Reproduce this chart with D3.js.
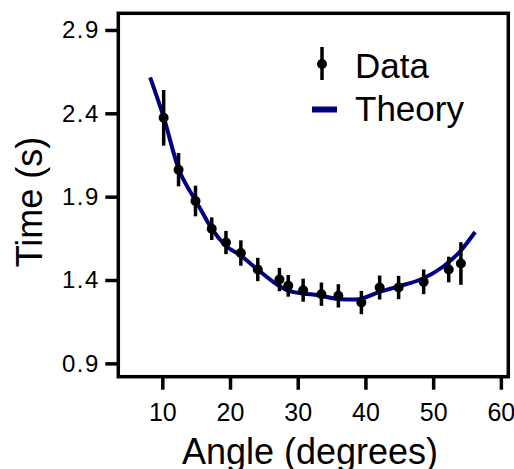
<!DOCTYPE html>
<html>
<head>
<meta charset="utf-8">
<script src="https://cdn.jsdelivr.net/npm/d3@7"></script>
<style>
  body { margin: 0; background: #fff; }
  svg { display: block; font-family: "Liberation Sans", Arial, sans-serif; }
</style>
</head>
<body>
<svg id="chart" width="514" height="469"></svg>
<script>
// measured points
const angles = [10.2, 12.4, 14.9, 17.3, 19.4, 21.6, 24.1, 27.3, 28.6, 30.8, 33.5, 36.0, 39.4, 42.1, 44.9, 48.6, 52.3, 54.1];
const times  = [2.373, 2.062, 1.874, 1.708, 1.625, 1.562, 1.463, 1.403, 1.365, 1.339, 1.315, 1.305, 1.265, 1.355, 1.355, 1.389, 1.463, 1.499];
const errors = [0.167, 0.10, 0.092, 0.068, 0.07, 0.076, 0.07, 0.07, 0.065, 0.069, 0.07, 0.07, 0.07, 0.072, 0.07, 0.074, 0.077, 0.128];

// theory curve
const theoryAngles = [8.2, 10.2, 12.4, 14.6, 15.6, 17.3, 19.3, 21.5, 24.2, 27.1, 28.8, 30.8, 33.0, 36.2, 38.6, 42.1, 45.0, 48.5, 51.4, 53.9, 56.2];
const theoryTimes  = [2.616, 2.377, 2.068, 1.898, 1.828, 1.708, 1.608, 1.549, 1.459, 1.369, 1.333, 1.319, 1.309, 1.285, 1.283, 1.329, 1.363, 1.409, 1.478, 1.568, 1.688];

const xTicks = [10, 20, 30, 40, 50, 60];
const yTicks = [0.9, 1.4, 1.9, 2.4, 2.9];

const margin = { top: 13.3, right: 5.7, bottom: 92.3, left: 118.3 };
const width = 514 - margin.left - margin.right;
const height = 469 - margin.top - margin.bottom;
const navy = '#000080';

const svg = d3.select('#chart');
const g = svg.append('g').attr('transform', `translate(${margin.left},${margin.top})`);

const x = d3.scaleLinear().domain([3.5, 61.1]).range([0, width]);
const y = d3.scaleLinear().domain([0.82, 3.0]).range([height, 0]);

// x axis
const xAxis = g.append('g')
  .attr('transform', `translate(0,${height})`)
  .call(d3.axisBottom(x).tickValues(xTicks).tickSize(13).tickPadding(14).tickFormat(d3.format('d')));
xAxis.select('.domain').remove();
xAxis.selectAll('line').attr('stroke', '#000').attr('stroke-width', 3.5);
xAxis.selectAll('text')
  .attr('font-size', 25).attr('fill', '#000').attr('font-family', null);

// y axis
const yAxis = g.append('g')
  .call(d3.axisLeft(y).tickValues(yTicks).tickSize(13).tickPadding(7).tickFormat(d3.format('.1f')));
yAxis.select('.domain').remove();
yAxis.selectAll('line').attr('stroke', '#000').attr('stroke-width', 3.5);
yAxis.selectAll('text')
  .attr('font-size', 24).attr('fill', '#000').attr('font-family', null)
  .attr('letter-spacing', 1.5).attr('dx', 1.5);

// frame
g.append('rect')
  .attr('width', width)
  .attr('height', height)
  .attr('fill', 'none')
  .attr('stroke', '#000')
  .attr('stroke-width', 3.5);

// theory
const line = d3.line()
  .x((d, i) => x(theoryAngles[i]))
  .y(d => y(d))
  .curve(d3.curveMonotoneX);

g.append('path')
  .datum(theoryTimes)
  .attr('fill', 'none')
  .attr('stroke', navy)
  .attr('stroke-width', 4)
  .attr('stroke-linejoin', 'round')
  .attr('d', line);

// data with error bars
const pts = g.append('g')
  .selectAll('g')
  .data(angles.map((a, i) => ({ a, t: times[i], e: errors[i] })))
  .join('g');

pts.append('line')
  .attr('x1', d => x(d.a)).attr('x2', d => x(d.a))
  .attr('y1', d => y(d.t + d.e)).attr('y2', d => y(d.t - d.e))
  .attr('stroke', '#000')
  .attr('stroke-width', 3.5);

pts.append('circle')
  .attr('cx', d => x(d.a))
  .attr('cy', d => y(d.t))
  .attr('r', 5)
  .attr('fill', '#000');

// legend
const legend = svg.append('g').attr('font-size', 35);
legend.append('line')
  .attr('x1', 322).attr('x2', 322).attr('y1', 47).attr('y2', 80)
  .attr('stroke', '#000').attr('stroke-width', 3.5);
legend.append('circle').attr('cx', 322).attr('cy', 64).attr('r', 5).attr('fill', '#000');
legend.append('text').attr('x', 355).attr('y', 78).text('Data');
legend.append('line')
  .attr('x1', 312).attr('x2', 337).attr('y1', 109.5).attr('y2', 109.5)
  .attr('stroke', navy).attr('stroke-width', 6);
legend.append('text').attr('x', 355).attr('y', 121).text('Theory');

// axis titles
svg.append('text')
  .attr('x', 310)
  .attr('y', 464)
  .attr('text-anchor', 'middle')
  .attr('font-size', 36)
  .text('Angle (degrees)');

svg.append('text')
  .attr('transform', 'translate(42,202) rotate(-90)')
  .attr('text-anchor', 'middle')
  .attr('font-size', 36)
  .text('Time (s)');
</script>
</body>
</html>
